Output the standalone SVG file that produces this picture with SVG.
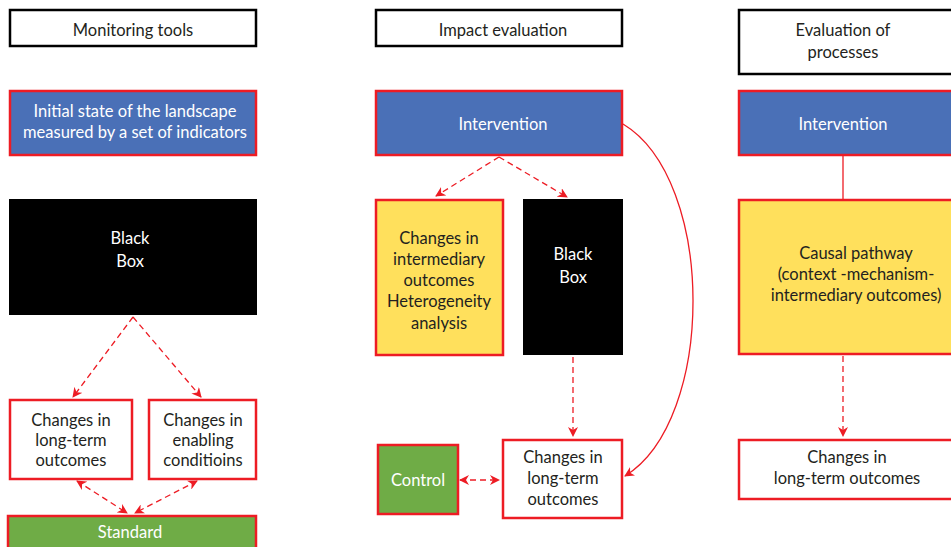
<svg xmlns="http://www.w3.org/2000/svg" width="951" height="547" viewBox="0 0 951 547">
<defs>
<style>
text{font-family:Lato,"Liberation Sans",sans-serif;font-size:16.5px;fill:#231f20;text-anchor:middle;dominant-baseline:central}
.w{fill:#ffffff}
.title{fill:#fff;stroke:#000;stroke-width:2.5}
.blue{fill:#4a70b7;stroke:#ed1c24;stroke-width:2.5}
.yellow{fill:#ffe05c;stroke:#ed1c24;stroke-width:2.5}
.white{fill:#fff;stroke:#ed1c24;stroke-width:2.5}
.green{fill:#6fac46;stroke:#ed1c24;stroke-width:2.5}
.black{fill:#000}
.dash{fill:none;stroke:#ed1c24;stroke-width:1.3;stroke-dasharray:6 4}
.solid{fill:none;stroke:#ed1c24;stroke-width:1.3}
</style>
<marker id="ah" viewBox="0 0 10 10" refX="9" refY="5" markerWidth="10" markerHeight="10" markerUnits="userSpaceOnUse" orient="auto-start-reverse">
<path d="M0,0 L10,5 L0,10 L3,5 Z" fill="#ed1c24"/>
</marker>
</defs>

<g id="n-monitoring"><rect class="title" x="10" y="10" width="246" height="36"/><text x="133" y="30">Monitoring tools</text></g>
<g id="n-initial"><rect class="blue" x="10" y="91" width="246" height="64"/><text class="w" x="135" y="111">Initial state of the landscape</text><text class="w" x="135" y="132">measured by a set of indicators</text></g>
<g id="n-blackbox1"><rect class="black" x="9" y="199" width="248" height="116"/><text class="w" x="130" y="238">Black</text><text class="w" x="130" y="261">Box</text></g>
<g id="n-lt1"><rect class="white" x="10" y="400" width="122" height="79"/><text x="71" y="420">Changes in</text><text x="71" y="440">long-term</text><text x="71" y="460">outcomes</text></g>
<g id="n-enabling"><rect class="white" x="149" y="400" width="107" height="79"/><text x="203" y="420">Changes in</text><text x="203" y="440">enabling</text><text x="203" y="460">conditioins</text></g>
<g id="n-standard"><rect class="green" x="8" y="516" width="248" height="34"/><text class="w" x="130" y="532">Standard</text></g>

<g id="n-impact"><rect class="title" x="376" y="10" width="246" height="36"/><text x="503" y="30">Impact evaluation</text></g>
<g id="n-intervention2"><rect class="blue" x="376" y="91" width="246" height="64"/><text class="w" x="503" y="124">Intervention</text></g>
<g id="n-intermediary"><rect class="yellow" x="376" y="200" width="127" height="155"/><text x="439" y="238">Changes in</text><text x="439" y="259">intermediary</text><text x="439" y="280">outcomes</text><text x="439" y="301">Heterogeneity</text><text x="439" y="323">analysis</text></g>
<g id="n-blackbox2"><rect class="black" x="523" y="199" width="100" height="156"/><text class="w" x="573" y="254">Black</text><text class="w" x="573" y="277">Box</text></g>
<g id="n-control"><rect class="green" x="378" y="445" width="80" height="69"/><text class="w" x="418" y="480">Control</text></g>
<g id="n-lt2"><rect class="white" x="503" y="440" width="119" height="78"/><text x="563" y="457">Changes in</text><text x="563" y="478">long-term</text><text x="563" y="499">outcomes</text></g>

<g id="n-processes"><rect class="title" x="739" y="10" width="216" height="64"/><text x="843" y="30">Evaluation of</text><text x="843" y="52">processes</text></g>
<g id="n-intervention3"><rect class="blue" x="739" y="91" width="216" height="64"/><text class="w" x="843" y="124">Intervention</text></g>
<g id="n-causal"><rect class="yellow" x="739" y="200" width="216" height="154"/><text x="856" y="253">Causal pathway</text><text x="856" y="274">(context -mechanism-</text><text x="856" y="295">intermediary outcomes)</text></g>
<g id="n-lt3"><rect class="white" x="739" y="440" width="216" height="59"/><text x="847" y="457">Changes in</text><text x="847" y="478">long-term outcomes</text></g>

<g id="connectors">
<path class="dash" d="M133 317 L73 397" marker-end="url(#ah)"/>
<path class="dash" d="M133 317 L201 397" marker-end="url(#ah)"/>
<path class="dash" d="M77 481 L127 513" marker-start="url(#ah)" marker-end="url(#ah)"/>
<path class="dash" d="M197 481 L135 513" marker-start="url(#ah)" marker-end="url(#ah)"/>
<path class="dash" d="M499 157 L436 196" marker-end="url(#ah)"/>
<path class="dash" d="M499 157 L567 197" marker-end="url(#ah)"/>
<path class="dash" d="M573 357 L573 436" marker-end="url(#ah)"/>
<path class="dash" d="M460 480 L499 480" marker-start="url(#ah)" marker-end="url(#ah)"/>
<path class="solid" d="M623 124 C716 180 716 420 625 476" marker-end="url(#ah)"/>
<path class="solid" d="M843 155 L843 199"/>
<path class="dash" d="M843 356 L843 436" marker-end="url(#ah)"/>
</g>
</svg>
